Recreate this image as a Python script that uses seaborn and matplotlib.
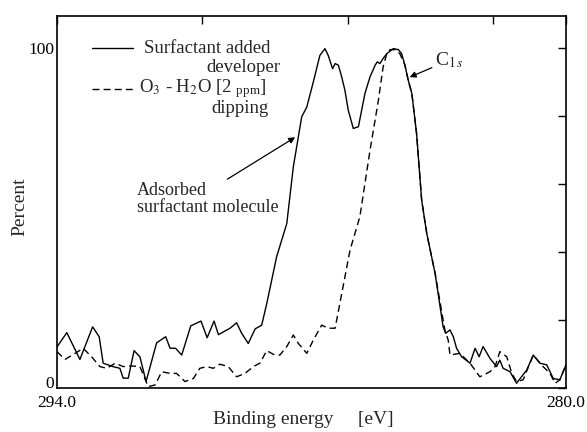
import matplotlib
matplotlib.use("Agg")
import matplotlib.pyplot as plt
import seaborn as sns
import pandas as pd

# Binding energy [eV] and Percent values
solid_ev = [294.00, 293.73, 293.37, 293.02, 292.84, 292.73, 292.46, 292.27, 292.18, 292.04,
            291.88, 291.72, 291.55, 291.26, 291.01, 290.89, 290.74, 290.57, 290.32, 290.04,
            289.87, 289.68, 289.56, 289.24, 289.06, 288.92, 288.74, 288.55, 288.37, 288.23,
            287.96, 287.68, 287.50, 287.27, 287.13, 286.95, 286.77, 286.63, 286.54, 286.42,
            286.35, 286.26, 286.17, 286.08, 285.99, 285.85, 285.71, 285.62, 285.53, 285.39,
            285.25, 285.19, 285.12, 285.03, 284.93, 284.75, 284.61, 284.52, 284.43, 284.34,
            284.24, 284.11, 283.97, 283.83, 283.60, 283.38, 283.31, 283.19, 283.10, 283.01,
            282.87, 282.64, 282.50, 282.39, 282.28, 282.09, 281.91, 281.82, 281.73, 281.54,
            281.36, 281.08, 280.90, 280.72, 280.53, 280.35, 280.17, 280.00]
solid_pct = [12.1, 16.3, 8.4, 18.0, 15.1, 7.3, 6.3, 5.8, 2.9, 2.9,
             11.0, 9.2, 1.9, 13.3, 15.1, 11.7, 11.7, 9.7, 18.3, 19.7,
             14.8, 19.7, 15.7, 17.6, 19.2, 16.1, 13.1, 17.4, 18.5, 24.9,
             38.6, 48.4, 65.1, 79.8, 82.7, 90.1, 97.9, 99.9, 97.9, 94.0,
             95.5, 95.0, 91.6, 87.6, 81.8, 76.4, 76.9, 81.8, 86.7, 91.6,
             95.0, 96.0, 95.5, 97.0, 98.4, 99.9, 99.6, 98.4, 95.0, 90.6,
             86.7, 74.9, 55.3, 45.5, 33.7, 18.0, 16.1, 17.1, 15.1, 11.7,
             9.2, 7.3, 11.7, 9.2, 12.2, 8.7, 6.3, 8.2, 5.8, 4.8,
             1.4, 5.3, 9.7, 7.3, 6.8, 2.8, 2.4, 6.8]

dashed_ev = [294.00, 293.78, 293.50, 293.28, 293.05, 292.82, 292.63, 292.40, 292.18, 291.95,
             291.72, 291.49, 291.30, 291.12, 290.89, 290.71, 290.48, 290.25, 290.07, 289.88,
             289.70, 289.52, 289.29, 289.06, 288.83, 288.60, 288.42, 288.23, 288.05, 287.87,
             287.68, 287.50, 287.36, 287.13, 286.95, 286.72, 286.54, 286.35, 286.22, 285.94,
             285.67, 285.39, 285.16, 285.03, 284.93, 284.84, 284.70, 284.57, 284.43, 284.34,
             284.24, 284.11, 283.97, 283.83, 283.60, 283.33, 283.24, 283.19, 282.92, 282.64,
             282.37, 282.09, 281.95, 281.82, 281.63, 281.49, 281.36, 281.18, 280.90, 280.63,
             280.44, 280.30, 280.17, 280.00]
dashed_pct = [10.7, 8.4, 10.2, 11.7, 9.2, 6.3, 5.8, 7.3, 6.3, 6.5,
              6.3, 0.4, 0.9, 4.8, 4.3, 4.3, 1.9, 2.8, 5.8, 6.3,
              5.8, 7.0, 6.3, 3.3, 4.3, 6.3, 7.3, 11.0, 9.9, 9.7,
              12.2, 15.6, 13.1, 10.2, 14.1, 18.5, 17.6, 17.6, 24.9, 40.6,
              50.4, 70.0, 84.7, 94.5, 98.4, 99.6, 99.6, 98.4, 95.0, 90.6,
              86.7, 74.9, 55.3, 45.5, 33.7, 17.0, 14.1, 9.7, 10.2, 7.3,
              3.3, 4.8, 6.3, 10.7, 9.2, 4.3, 1.9, 2.4, 9.7, 6.3,
              4.3, 1.4, 2.4, 6.8]

y_ticks = [0, 20, 40, 60, 80, 100]
y_tick_labels = ["0", "", "", "", "", "100"]
x_ticks = [294, 290, 286, 282, 280]
x_tick_labels = ["294.0", "", "", "", "280.0"]

sns.set_style("white")
plt.rcParams["font.family"] = ["Liberation Serif", "DejaVu Serif"]
plt.rcParams["mathtext.fontset"] = "stix"

df_s = pd.DataFrame({"ev": solid_ev, "pct": solid_pct})
df_d = pd.DataFrame({"ev": dashed_ev, "pct": dashed_pct})

fig = plt.figure(figsize=(5.87, 4.32), dpi=100)
ax = fig.add_axes([57/587, 44/432, 509/587, 372/432])

sns.lineplot(data=df_s, x="ev", y="pct", ax=ax, color="black", linewidth=1.0, sort=False)
sns.lineplot(data=df_d, x="ev", y="pct", ax=ax, color="black", linewidth=1.0, sort=False,
             linestyle=(0, (5, 3)))

ax.set_xlim(294, 280)
ax.set_ylim(0, 109.5)
ax.set_yticks(y_ticks)
ax.set_yticklabels(y_tick_labels, fontsize=12.5)
ax.set_xticks(x_ticks)
ax.set_xticklabels(x_tick_labels, fontsize=12.5)
ax.tick_params(direction="in", length=6, width=1, top=True, right=True,
               colors="black")
ax.tick_params(axis="x", pad=5)
ax.tick_params(axis="y", pad=2)
ax.get_yticklabels()[0].set_verticalalignment("baseline")
for sp in ax.spines.values():
    sp.set_color("black")
    sp.set_linewidth(1.2)
ax.set_xlabel("Binding energy     [eV]", fontsize=14, labelpad=2)
ax.xaxis.set_label_coords((303 - 57) / 509, -(420 - 388) / 372)
ax.xaxis.label.set_verticalalignment("center")
ax.set_ylabel("")
fig.text(20 / 587, (432 - 207) / 432, "Percent", fontsize=14, rotation=90,
         ha="center", va="center")

# legend-like text block
ax.plot([293.05, 291.9], [100, 100], color="black", lw=1.0)
ax.plot([293.05, 291.9], [88, 88], color="black", lw=1.0, linestyle=(0, (5, 3)))
ax.text(291.6, 100, "Surfactant added", fontsize=13.5, va="center", ha="left")
ax.text(289.9, 94.2, "developer", fontsize=13.5, va="center", ha="left")
ax.text(291.75, 88, "O$_3$ - H$_2$O [2 $\\mathregular{_{ppm}}$]", fontsize=13.5,
        va="center", ha="left")
ax.text(289.75, 82.3, "dipping", fontsize=13.5, va="center", ha="left")

ax.annotate("Adsorbed\nsurfactant molecule", xy=(287.45, 73.8), xytext=(291.8, 55.5),
            fontsize=13, ha="left", va="center", linespacing=1.0,
            arrowprops=dict(arrowstyle="-|>", color="black", lw=0.9,
                            shrinkA=0, shrinkB=0, mutation_scale=9,
                            relpos=(0.62, 1.05)))
ax.annotate("C$_{1\\,s}$", xy=(284.3, 91.5), xytext=(283.6, 96.5),
            fontsize=14, ha="left", va="center",
            arrowprops=dict(arrowstyle="-|>", color="black", lw=0.9,
                            shrinkA=0, shrinkB=0, mutation_scale=9))

fig.savefig("out.png", dpi=100)
